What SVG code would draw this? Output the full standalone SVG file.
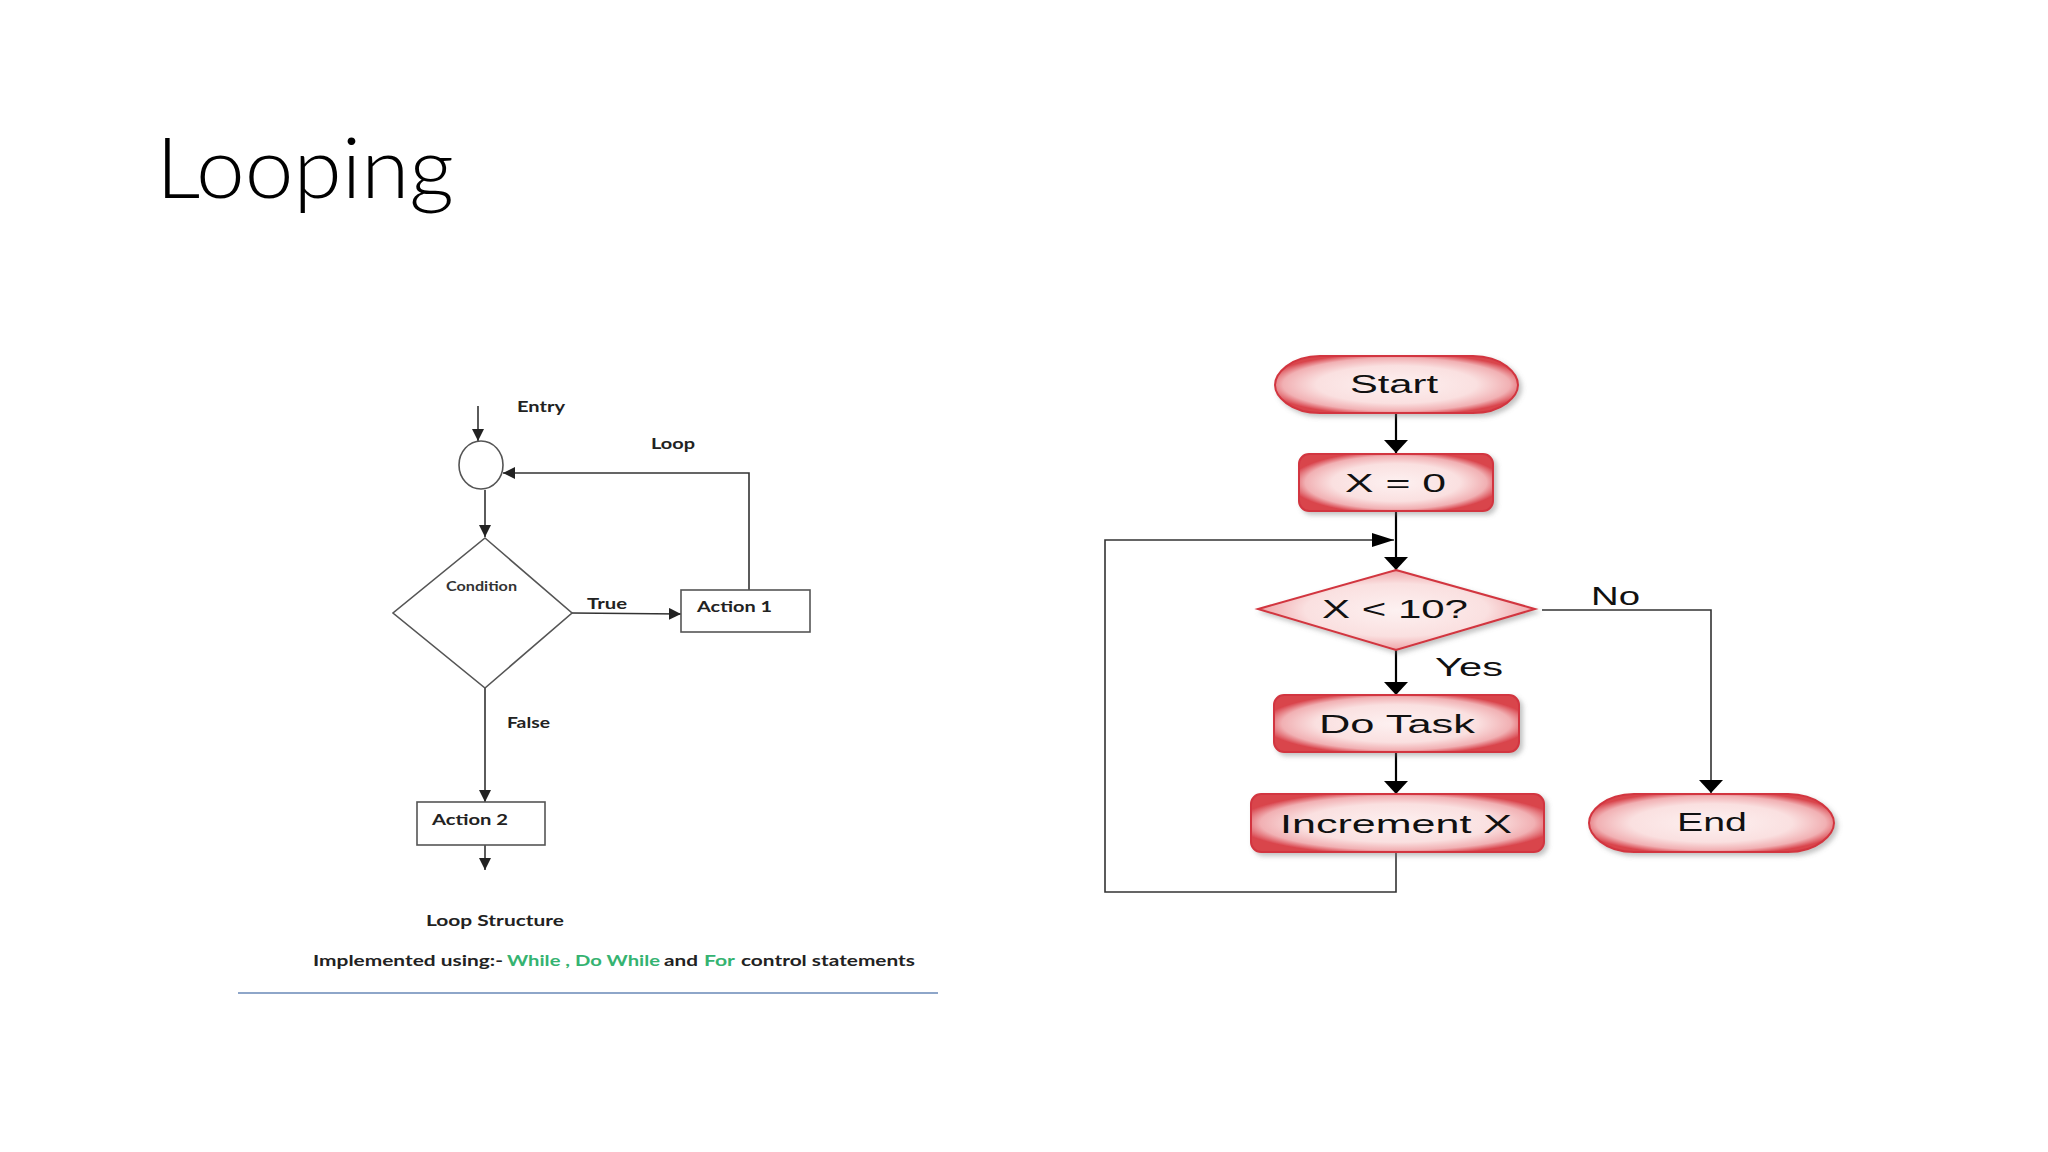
<svg xmlns="http://www.w3.org/2000/svg" width="2048" height="1152" viewBox="0 0 2048 1152">
<defs>
<style>
.title{font-family:Lato,"Open Sans","Liberation Sans",sans-serif;font-weight:300;font-size:84px;fill:#000}
.lt{font-family:Lato,"Open Sans","Liberation Sans",sans-serif;font-weight:700;font-size:16px;fill:#222}
.lts{font-family:Lato,"Open Sans","Liberation Sans",sans-serif;font-weight:700;font-size:13px;fill:#333}
.grn{fill:#35b371}
.rt{font-family:"Liberation Sans",Arial,sans-serif;font-size:26px;fill:#111}
.lshape{fill:#fff;stroke:#555;stroke-width:1.6}
.lline{fill:none;stroke:#333;stroke-width:1.6}
.rline{fill:none;stroke:#000;stroke-width:2.2}
.rloop{fill:none;stroke:#333;stroke-width:1.6}
.rshape{fill:url(#pink);stroke:#d2363f;stroke-width:2;filter:url(#shadow)}
</style>
<radialGradient id="pink" cx="0.5" cy="0.5" r="0.55">
<stop offset="0" stop-color="#fdf1f1"/>
<stop offset="0.6" stop-color="#fae0e0"/>
<stop offset="0.85" stop-color="#f1b0b3"/>
<stop offset="1" stop-color="#d9444c"/>
</radialGradient>
<filter id="shadow" x="-10%" y="-20%" width="125%" height="150%">
<feDropShadow dx="3" dy="3" stdDeviation="2.5" flood-color="#777" flood-opacity="0.45"/>
</filter>
<marker id="la" markerUnits="userSpaceOnUse" markerWidth="12" markerHeight="12" refX="10" refY="5" orient="auto" viewBox="0 0 10 10">
<path d="M0,0 L10,5 L0,10 Z" fill="#222"/>
</marker>
<marker id="rd" markerUnits="userSpaceOnUse" markerWidth="14" markerHeight="24" refX="13" refY="12" orient="auto" viewBox="0 0 14 24">
<path d="M0,0 L13,12 L0,24 Z" fill="#000"/>
</marker>
<marker id="rh" markerUnits="userSpaceOnUse" markerWidth="23" markerHeight="14" refX="22" refY="7" orient="auto" viewBox="0 0 23 14">
<path d="M0,0 L22,7 L0,14 Z" fill="#000"/>
</marker>
</defs>
<rect width="2048" height="1152" fill="#fff"/>

<text class="title" x="156" y="198" textLength="298" lengthAdjust="spacingAndGlyphs">Looping</text>

<!-- Left flowchart -->
<g id="connectors-left">
<line class="lline" x1="478" y1="406" x2="478" y2="441" marker-end="url(#la)"/>
<line class="lline" x1="485" y1="490" x2="485" y2="537" marker-end="url(#la)"/>
<line class="lline" x1="572" y1="613" x2="681" y2="614" marker-end="url(#la)"/>
<polyline class="lline" points="749,590 749,473 503,473" marker-end="url(#la)"/>
<line class="lline" x1="485" y1="688" x2="485" y2="802" marker-end="url(#la)"/>
<line class="lline" x1="485" y1="845" x2="485" y2="870" marker-end="url(#la)"/>
<text class="lt" x="517" y="412" textLength="48" lengthAdjust="spacingAndGlyphs">Entry</text>
<text class="lt" x="651" y="449" textLength="44" lengthAdjust="spacingAndGlyphs">Loop</text>
<text class="lt" x="587" y="609" textLength="40" lengthAdjust="spacingAndGlyphs">True</text>
<text class="lt" x="507" y="728" textLength="43" lengthAdjust="spacingAndGlyphs">False</text>
</g>
<g id="junction">
<ellipse class="lshape" cx="481" cy="465" rx="22" ry="24"/>
</g>
<g id="condition">
<polygon class="lshape" points="485,538 572,613 485,688 393,613"/>
<text class="lts" x="446" y="591" textLength="71" lengthAdjust="spacingAndGlyphs">Condition</text>
</g>
<g id="action1">
<rect class="lshape" x="681" y="590" width="129" height="42"/>
<text class="lt" x="697" y="612" textLength="75" lengthAdjust="spacingAndGlyphs">Action 1</text>
</g>
<g id="action2">
<rect class="lshape" x="417" y="802" width="128" height="43"/>
<text class="lt" x="432" y="825" textLength="76" lengthAdjust="spacingAndGlyphs">Action 2</text>
</g>
<g id="caption">
<text class="lt" x="426" y="926" textLength="138" lengthAdjust="spacingAndGlyphs">Loop Structure</text>
<text class="lt"><tspan x="313" y="966" textLength="190" lengthAdjust="spacingAndGlyphs">Implemented using:-</tspan><tspan class="grn" x="507" y="966" textLength="153" lengthAdjust="spacingAndGlyphs">While , Do While</tspan><tspan x="664" y="966" textLength="34" lengthAdjust="spacingAndGlyphs">and</tspan><tspan class="grn" x="704" y="966" textLength="31" lengthAdjust="spacingAndGlyphs">For</tspan><tspan x="741" y="966" textLength="174" lengthAdjust="spacingAndGlyphs">control statements</tspan></text>
<line x1="238" y1="993" x2="938" y2="993" stroke="#8ea6c9" stroke-width="2"/>
</g>

<!-- Right flowchart -->
<g id="connectors-right">
<line class="rline" x1="1396" y1="414" x2="1396" y2="453" marker-end="url(#rd)"/>
<line class="rline" x1="1396" y1="511" x2="1396" y2="570" marker-end="url(#rd)"/>
<polyline class="rloop" points="1396,852 1396,892 1105,892 1105,540 1394,540" marker-end="url(#rh)"/>
<polyline class="rloop" points="1542,610 1711,610 1711,793" marker-end="url(#rd)"/>
<line class="rline" x1="1396" y1="650" x2="1396" y2="695" marker-end="url(#rd)"/>
<line class="rline" x1="1396" y1="752" x2="1396" y2="794" marker-end="url(#rd)"/>
<text class="rt" x="1591" y="605" textLength="49" lengthAdjust="spacingAndGlyphs">No</text>
<text class="rt" x="1435" y="676" textLength="68" lengthAdjust="spacingAndGlyphs">Yes</text>
</g>
<g id="start">
<path class="rshape" d="M1320,356 H1473 C1503,356 1518,374 1518,385 C1518,396 1503,413 1473,413 H1320 C1290,413 1275,396 1275,385 C1275,374 1290,356 1320,356 Z"/>
<text class="rt" x="1350" y="393" textLength="88" lengthAdjust="spacingAndGlyphs">Start</text>
</g>
<g id="init">
<rect class="rshape" x="1299" y="454" width="194" height="57" rx="10"/>
<text class="rt" x="1345" y="492" textLength="101" lengthAdjust="spacingAndGlyphs">X = 0</text>
</g>
<g id="check">
<polygon class="rshape" points="1396,570 1535,609 1396,650 1258,609"/>
<text class="rt" x="1322" y="618" textLength="146" lengthAdjust="spacingAndGlyphs">X &lt; 10?</text>
</g>
<g id="task">
<rect class="rshape" x="1274" y="695" width="245" height="57" rx="10"/>
<text class="rt" x="1319" y="733" textLength="156" lengthAdjust="spacingAndGlyphs">Do Task</text>
</g>
<g id="increment">
<rect class="rshape" x="1251" y="794" width="293" height="58" rx="10"/>
<text class="rt" x="1280" y="833" textLength="232" lengthAdjust="spacingAndGlyphs">Increment X</text>
</g>
<g id="end">
<path class="rshape" d="M1634,794 H1788 C1818,794 1834,812 1834,823 C1834,834 1818,852 1788,852 H1634 C1604,852 1589,834 1589,823 C1589,812 1604,794 1634,794 Z"/>
<text class="rt" x="1677" y="831" textLength="70" lengthAdjust="spacingAndGlyphs">End</text>
</g>
</svg>
